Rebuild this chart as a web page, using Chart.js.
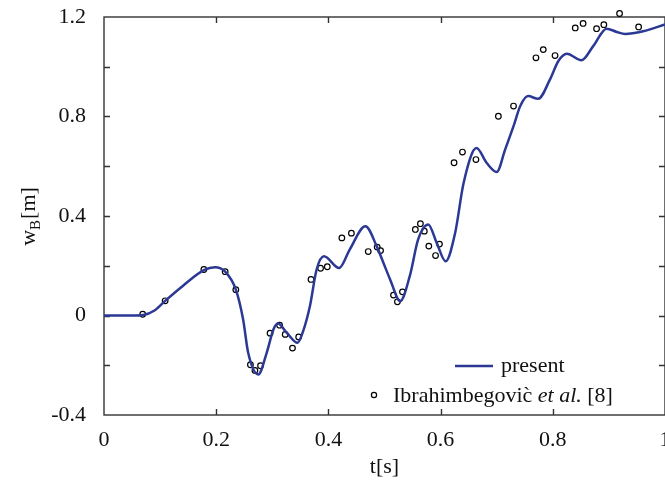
<!DOCTYPE html>
<html>
<head>
<meta charset="utf-8">
<script src="https://cdn.jsdelivr.net/npm/chart.js@4/dist/chart.umd.min.js"></script>
<style>
  html, body { margin: 0; padding: 0; background: #fff; overflow: hidden; }
  #wrap { width: 665px; height: 485px; }
</style>
</head>
<body>
<div id="wrap"><canvas id="c" width="665" height="485"></canvas></div>
<script>
// present solution
const presentT = [0, 0.05, 0.07, 0.09, 0.109, 0.141, 0.178, 0.198, 0.216, 0.235, 0.248, 0.257, 0.275, 0.29, 0.302, 0.31, 0.326, 0.345, 0.355, 0.367, 0.379, 0.392, 0.419, 0.438, 0.466, 0.486, 0.498, 0.51, 0.528, 0.545, 0.56, 0.578, 0.593, 0.609, 0.626, 0.641, 0.664, 0.682, 0.7, 0.715, 0.73, 0.742, 0.756, 0.774, 0.795, 0.81, 0.825, 0.851, 0.872, 0.896, 0.914, 0.929, 0.961, 1.0];
const presentW = [0, 0, 0.002, 0.02, 0.059, 0.12, 0.182, 0.194, 0.176, 0.104, -0.016, -0.15, -0.237, -0.15, -0.056, -0.032, -0.07, -0.11, -0.063, 0.037, 0.185, 0.238, 0.191, 0.265, 0.359, 0.279, 0.212, 0.145, 0.058, 0.158, 0.306, 0.366, 0.292, 0.218, 0.333, 0.533, 0.673, 0.614, 0.577, 0.667, 0.761, 0.842, 0.882, 0.871, 0.949, 1.023, 1.052, 1.026, 1.083, 1.153, 1.14, 1.132, 1.143, 1.17];

// Ibrahimbegovic et al. [8]
const refT = [0.069, 0.109, 0.178, 0.216, 0.235, 0.261, 0.269, 0.279, 0.296, 0.313, 0.323, 0.336, 0.347, 0.369, 0.386, 0.398, 0.424, 0.441, 0.471, 0.487, 0.493, 0.516, 0.523, 0.532, 0.555, 0.564, 0.571, 0.579, 0.591, 0.598, 0.624, 0.639, 0.663, 0.703, 0.73, 0.77, 0.783, 0.804, 0.84, 0.854, 0.878, 0.891, 0.919, 0.953, 0.989];
const refW = [0.005, 0.059, 0.185, 0.176, 0.104, -0.198, -0.221, -0.202, -0.071, -0.039, -0.076, -0.131, -0.086, 0.145, 0.19, 0.196, 0.312, 0.331, 0.257, 0.275, 0.261, 0.082, 0.055, 0.095, 0.346, 0.369, 0.339, 0.279, 0.241, 0.287, 0.614, 0.657, 0.627, 0.801, 0.842, 1.036, 1.069, 1.045, 1.156, 1.174, 1.153, 1.169, 1.214, 1.16, 1.223];

const xTickMarks = [0.2, 0.4, 0.6, 0.8];
const yTickMarks = [-0.2, 0, 0.2, 0.4, 0.6, 0.8, 1.0];

const serif = "'Liberation Serif', 'Times New Roman', serif";
const ink = "#111";
const blue = "#2b3995";

Chart.defaults.font.family = serif;
Chart.defaults.font.size = 22;
Chart.defaults.color = ink;

const frame = {
  id: "frame",
  beforeDatasetsDraw(chart) {
    const { ctx, chartArea: a, scales: { x, y } } = chart;
    ctx.save();
    ctx.strokeStyle = "#333";
    ctx.lineWidth = 1.4;
    ctx.strokeRect(a.left, a.top, a.right - a.left, a.bottom - a.top);
    ctx.beginPath();
    xTickMarks.forEach(v => {
      const px = Math.round(x.getPixelForValue(v)) + 0.5;
      ctx.moveTo(px, a.bottom); ctx.lineTo(px, a.bottom - 6);
      ctx.moveTo(px, a.top); ctx.lineTo(px, a.top + 6);
    });
    yTickMarks.forEach(v => {
      const py = Math.round(y.getPixelForValue(v)) + 0.5;
      ctx.moveTo(a.left, py); ctx.lineTo(a.left + 6, py);
      ctx.moveTo(a.right, py); ctx.lineTo(a.right - 6, py);
    });
    ctx.stroke();
    ctx.restore();
  },
  afterDraw(chart) {
    const { ctx, chartArea: a } = chart;
    ctx.save();
    ctx.fillStyle = ink;
    ctx.textBaseline = "alphabetic";

    // x title
    ctx.font = "22px " + serif;
    ctx.textAlign = "center";
    ctx.fillText("t[s]", (a.left + a.right) / 2, 473);

    // y title with subscript
    ctx.translate(35, 217);
    ctx.rotate(-Math.PI / 2);
    ctx.textAlign = "left";
    const w1 = ctx.measureText("w").width;
    ctx.font = "15px " + serif;
    const wB = ctx.measureText("B").width;
    ctx.font = "22px " + serif;
    const w3 = ctx.measureText("[m]").width;
    let sx = -(w1 + wB + w3) / 2;
    ctx.fillText("w", sx, 0);
    ctx.font = "15px " + serif;
    ctx.fillText("B", sx + w1, 5);
    ctx.font = "22px " + serif;
    ctx.fillText("[m]", sx + w1 + wB + 1, 0);
    ctx.restore();

    // legend
    ctx.save();
    ctx.fillStyle = ink;
    ctx.textBaseline = "alphabetic";
    ctx.font = "22px " + serif;
    ctx.strokeStyle = blue;
    ctx.lineWidth = 2.5;
    ctx.beginPath();
    ctx.moveTo(455, 366); ctx.lineTo(493, 366);
    ctx.stroke();
    ctx.fillText("present", 501, 372);

    ctx.strokeStyle = "#000";
    ctx.lineWidth = 1.2;
    ctx.beginPath();
    ctx.arc(374, 395, 2.6, 0, Math.PI * 2);
    ctx.stroke();
    let lx = 393;
    const p1 = "Ibrahimbegovic\u0300 ";
    ctx.fillText(p1, lx, 402);
    lx += ctx.measureText(p1).width;
    ctx.font = "italic 22px " + serif;
    ctx.fillText("et al.", lx, 402);
    lx += ctx.measureText("et al.").width;
    ctx.font = "22px " + serif;
    ctx.fillText(" [8]", lx, 402);
    ctx.restore();
  }
};

new Chart(document.getElementById("c"), {
  type: "scatter",
  data: {
    datasets: [
      {
        label: "present",
        data: presentT.map((t, i) => ({ x: t, y: presentW[i] })),
        showLine: true,
        borderColor: blue,
        borderWidth: 2.5,
        pointRadius: 0,
        cubicInterpolationMode: "monotone",
        fill: false
      },
      {
        label: "Ibrahimbegovic et al. [8]",
        data: refT.map((t, i) => ({ x: t, y: refW[i] })),
        showLine: false,
        pointStyle: "circle",
        pointRadius: 2.8,
        pointBorderWidth: 1.2,
        pointBorderColor: "#000",
        pointBackgroundColor: "rgba(255,255,255,0)",
        clip: false
      }
    ]
  },
  plugins: [frame],
  options: {
    responsive: false,
    animation: false,
    layout: { autoPadding: false, padding: { top: 17, right: 0, left: 0, bottom: 0 } },
    plugins: { legend: { display: false }, tooltip: { enabled: false } },
    scales: {
      x: {
        type: "linear",
        min: 0, max: 1,
        grid: { display: false, drawTicks: false },
        border: { display: false },
        ticks: {
          stepSize: 0.2,
          padding: 12,
          color: ink,
          maxRotation: 0,
          autoSkip: false,
          callback: v => String(+v.toFixed(1))
        },
        afterFit: s => { s.height = 70; s.paddingLeft = 0; s.paddingRight = 0; }
      },
      y: {
        type: "linear",
        min: -0.4, max: 1.2,
        grid: { display: false, drawTicks: false },
        border: { display: false },
        ticks: {
          stepSize: 0.4,
          padding: 18,
          color: ink,
          callback: v => String(+v.toFixed(1))
        },
        afterFit: s => { s.width = 104; s.paddingTop = 0; s.paddingBottom = 0; }
      }
    }
  }
});
</script>
</body>
</html>
